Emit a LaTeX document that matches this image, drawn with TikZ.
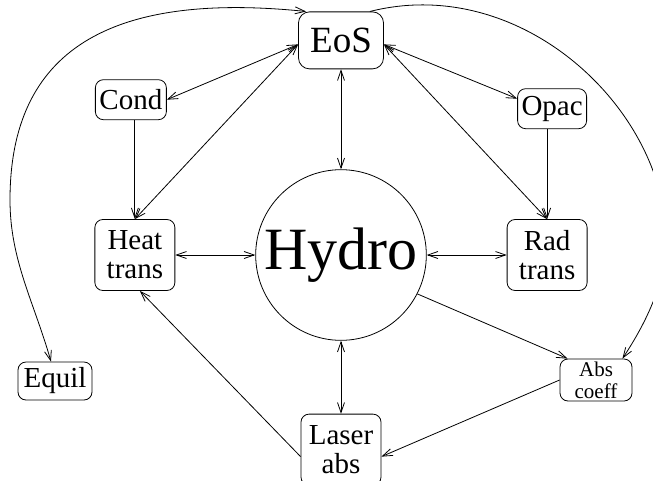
\documentclass[tikz,border=0pt]{standalone}
\usepackage{fontspec}
\setmainfont{Liberation Serif}
\usetikzlibrary{positioning, arrows.meta}

\begin{document}
\begin{tikzpicture}[
	x=1pt, y=-1pt,
	line width=0.8pt,
	>={Straight Barb[length=10pt, width=7pt]},
	box/.style={rectangle, rounded corners=8pt, draw, align=center, inner sep=2pt, minimum height=40pt, font=\fontsize{29}{29}\selectfont},
	tall/.style={box, minimum width=80pt, minimum height=71pt},
	arrow/.style={->},
	both/.style={<->}
]
	\useasboundingbox (0,0) rectangle (653,480);

	\node[circle, draw, minimum size=160pt, font=\fontsize{60}{60}\selectfont] (hydro) at (341,255) {Hydro};
	\node[box, rounded corners=11pt, minimum width=85pt, minimum height=57pt, font=\fontsize{37}{37}\selectfont, above=100pt of hydro] (eos) {EoS};
	\node[tall, left=80pt of hydro] (heat) {Heat\\trans};
	\node[tall, right=80pt of hydro] (rad) {Rad\\trans};
	\node[tall, below=73pt of hydro] (laser) {Laser\\abs};
	\node[box, minimum width=71pt, above=99pt of heat, xshift=-4pt] (cond) {Cond};
	\node[box, minimum width=69pt, above=90pt of rad, xshift=5pt] (opac) {Opac};
	\node[box, minimum width=74pt, minimum height=38pt] (equil) at (55,381) {Equil};
	\node[box, minimum width=72pt, minimum height=42pt, inner sep=1pt, font=\fontsize{21}{22}\selectfont] (abs) at (596,380) {Abs\\coeff};

	\draw[both] (eos.south) -- (hydro.north);
	\draw[both] (hydro.south) -- (laser.north);
	\draw[both] (heat.east) -- (hydro.west);
	\draw[both] (hydro.east) -- (rad.west);
	\draw[both] ([yshift=-4pt]eos.west) -- (cond.east);
	\draw[both] ([yshift=-4pt]eos.west) -- (heat.north);
	\draw[arrow] (cond.south -| heat.north) -- (heat.north);
	\draw[both] ([yshift=-4pt]eos.east) -- ([yshift=10pt]opac.west);
	\draw[both] ([yshift=-4pt]eos.east) -- (rad.north);
	\draw[arrow] (opac.south -| rad.north) -- (rad.north);
	\draw[arrow] (hydro.-27) -- ([xshift=8pt]abs.north west);
	\draw[arrow] (abs.west) -- ([yshift=-7pt]laser.east);
	\draw[arrow] ([yshift=-7pt]laser.west) -- ([xshift=5pt]heat.south);

	% long loops round the outside
	\draw[both] ([xshift=8pt]eos.north west) .. controls (110,-8.5) and (10,50) .. (10,200)
		.. controls (10,260) and (34,302) .. ([xshift=-4pt]equil.north);
	\draw[arrow] ([xshift=-14pt]eos.north east) .. controls (522,-27) and (666,110) .. (666,240)
		.. controls (666,280) and (648,320) .. ([xshift=-10pt]abs.north east);
\end{tikzpicture}
\end{document}
